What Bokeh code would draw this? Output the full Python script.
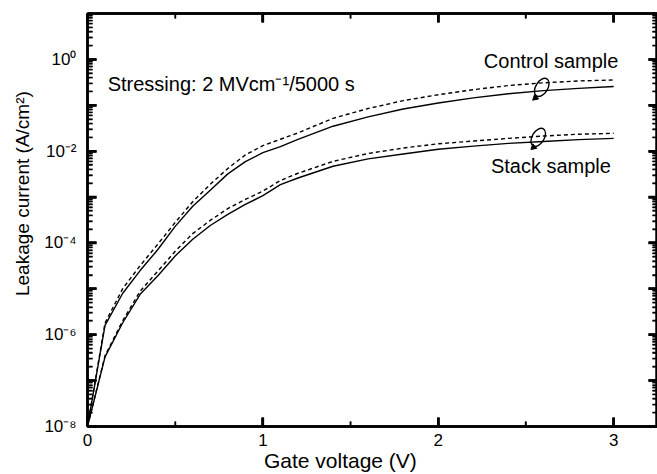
import math
from bokeh.plotting import figure
from bokeh.models import FixedTicker, ColumnDataSource, LinearAxis, LogAxis
from bokeh.core.properties import value
from bokeh.embed import file_html
from bokeh.resources import INLINE

# ---------------- data ----------------
gate_v = [0.0, 0.1, 0.2, 0.3, 0.4, 0.5, 0.6, 0.7, 0.8, 0.9, 1.0, 1.1, 1.2,
          1.4, 1.6, 1.8, 2.0, 2.2, 2.4, 2.6, 2.8, 3.0]

control_before = [1e-8, 1.6e-6, 7.9e-6, 2.5e-5, 7.1e-5, 2.3e-4, 6.3e-4, 1.4e-3,
                  3.2e-3, 5.9e-3, 9.3e-3, 1.26e-2, 1.8e-2, 3.5e-2, 5.6e-2,
                  8.3e-2, 0.112, 0.145, 0.178, 0.209, 0.234, 0.257]
control_after = [1e-8, 1.8e-6, 1.0e-5, 3.2e-5, 9.3e-5, 2.8e-4, 7.9e-4, 1.9e-3,
                 4.2e-3, 8.3e-3, 1.32e-2, 1.82e-2, 2.5e-2, 5.2e-2, 8.5e-2,
                 0.126, 0.17, 0.219, 0.269, 0.309, 0.339, 0.355]
stack_before = [1e-8, 3.3e-7, 1.8e-6, 7.6e-6, 1.9e-5, 5.2e-5, 1.2e-4, 2.4e-4,
                4.2e-4, 6.9e-4, 1.07e-3, 1.86e-3, 2.6e-3, 4.7e-3, 6.8e-3,
                8.7e-3, 1.1e-2, 1.29e-2, 1.48e-2, 1.62e-2, 1.78e-2, 1.9e-2]
stack_after = [1e-8, 3.5e-7, 2.0e-6, 8.9e-6, 2.4e-5, 6.6e-5, 1.6e-4, 3.1e-4,
               5.6e-4, 8.9e-4, 1.35e-3, 2.3e-3, 3.3e-3, 6.0e-3, 8.9e-3,
               1.17e-2, 1.45e-2, 1.66e-2, 1.9e-2, 2.14e-2, 2.34e-2, 2.45e-2]

x_lo, x_hi = 0.0, 3.25
y_lo, y_hi = 1e-8, 10.0
x_ticks = [0, 1, 2, 3]
x_minor_ticks = [0.5, 1.5, 2.5]
y_ticks = [1e-8, 1e-7, 1e-6, 1e-5, 1e-4, 1e-3, 1e-2, 1e-1, 1e0]
y_tick_labels = ["10⁻⁸", "", "10⁻⁶", "", "10⁻⁴", "", "10⁻²", "", "10⁰"]
y_minor_ticks = [k * d for d in y_ticks for k in range(2, 10)]

NBSP = "\u00a0"
x_title = "Gate voltage (V)"
y_title = "Leakage current (A/cm²)"
label_text = ["Control sample", "Stack sample", "Stressing: 2 MVcm⁻¹/5000 s"]
label_x = [2.26, 2.30, 0.115]
label_y = [0.9, 4.7e-3, 0.29]

loop_x = [2.59, 2.57]
loop_y = [0.245, 0.02]
arrow_x = [2.553, 2.543]
arrow_y = [0.145, 0.0122]

FONT = "Liberation Sans"
W, H = 657, 474
B_LEFT, B_RIGHT, B_TOP, B_BOTTOM = 87, 0, 13, 48

p = figure(width=W, height=H, y_axis_type="log",
           x_range=(x_lo, x_hi), y_range=(y_lo, y_hi),
           output_backend="svg", toolbar_location=None,
           min_border_left=B_LEFT, min_border_right=B_RIGHT,
           min_border_top=B_TOP, min_border_bottom=B_BOTTOM)
p.grid.visible = False
p.outline_line_color = "black"
p.outline_line_width = 2.5
p.background_fill_color = None
p.border_fill_color = "white"

p.line(gate_v, control_before, line_color="black", line_width=1.4)
p.line(gate_v, control_after, line_color="black", line_width=1.4, line_dash="4 3")
p.line(gate_v, stack_before, line_color="black", line_width=1.4)
p.line(gate_v, stack_after, line_color="black", line_width=1.4, line_dash="4 3")

p.ellipse(x=loop_x, y=loop_y, width=12, height=20, angle=-0.55,
          width_units="screen", height_units="screen",
          fill_color=None, line_color="black", line_width=1.4)
p.scatter(x=arrow_x, y=arrow_y, marker="triangle", size=6, angle=2.3,
          fill_color="black", line_color="black")

src = ColumnDataSource(dict(x=label_x, y=label_y, t=label_text))
p.text(x="x", y="y", text="t", source=src, text_font=value(FONT),
       text_font_size="20px", text_baseline="middle", text_align="left",
       text_color="black")

# ---- inward tick marks as segments (pixel lengths -> data units) ----
frame_w = W - B_LEFT - 5
frame_h = H - B_TOP - 5 - B_BOTTOM
ux = (x_hi - x_lo) / frame_w
uy = (math.log10(y_hi) - math.log10(y_lo)) / frame_h
MAJ, MIN = 9, 5


def ticks_x(xs, length, width):
    n = len(xs)
    f = 10 ** (length * uy)
    p.segment(x0=xs, y0=[y_lo] * n, x1=xs, y1=[y_lo * f] * n,
              line_color="black", line_width=width)
    p.segment(x0=xs, y0=[y_hi] * n, x1=xs, y1=[y_hi / f] * n,
              line_color="black", line_width=width)


def ticks_y(ys, length, width):
    n = len(ys)
    dd = length * ux
    p.segment(x0=[x_lo] * n, y0=ys, x1=[x_lo + dd] * n, y1=ys,
              line_color="black", line_width=width)
    p.segment(x0=[x_hi] * n, y0=ys, x1=[x_hi - dd] * n, y1=ys,
              line_color="black", line_width=width)


ticks_x(x_ticks, MAJ, 2.5)
ticks_x(x_minor_ticks, MIN, 1.6)
ticks_y(y_ticks, MAJ, 2.5)
ticks_y(y_minor_ticks, MIN, 1.3)


def style_axis(ax):
    ax.axis_line_width = 2.5
    ax.axis_line_color = "black"
    ax.major_tick_in = MAJ
    ax.major_tick_out = 0
    ax.minor_tick_in = MIN
    ax.minor_tick_out = 0
    ax.major_tick_line_color = "black"
    ax.minor_tick_line_color = "black"
    ax.major_tick_line_width = 2.5
    ax.minor_tick_line_width = 1.4
    ax.major_label_text_font = FONT
    ax.major_label_text_font_size = "17px"
    ax.major_label_text_color = "black"
    ax.axis_label_text_font = FONT
    ax.axis_label_text_font_style = "normal"
    ax.axis_label_text_color = "black"


xtk = FixedTicker(ticks=x_ticks, minor_ticks=x_minor_ticks)
ytk = FixedTicker(ticks=y_ticks, minor_ticks=y_minor_ticks)

xb = p.xaxis[0]
xb.ticker = xtk
style_axis(xb)
xb.major_label_standoff = 7
xb.axis_label = x_title + NBSP * 11
xb.axis_label_text_font_size = "21px"
xb.axis_label_standoff = 0

yl = p.yaxis[0]
yl.ticker = ytk
style_axis(yl)
yl.major_label_overrides = {t: l for t, l in zip(y_ticks, y_tick_labels)}
yl.major_label_standoff = 11
yl.axis_label = NBSP * 10 + y_title
yl.axis_label_text_font_size = "19px"
yl.axis_label_standoff = 8

xtop = LinearAxis(ticker=xtk)
style_axis(xtop)
xtop.major_label_overrides = {t: "" for t in x_ticks}
xtop.major_label_standoff = 0
p.add_layout(xtop, "above")

yr = LogAxis(ticker=ytk)
style_axis(yr)
yr.major_label_overrides = {t: "" for t in y_ticks}
yr.major_label_standoff = 0
p.add_layout(yr, "right")

open("out.html", "w").write(file_html(p, INLINE))
